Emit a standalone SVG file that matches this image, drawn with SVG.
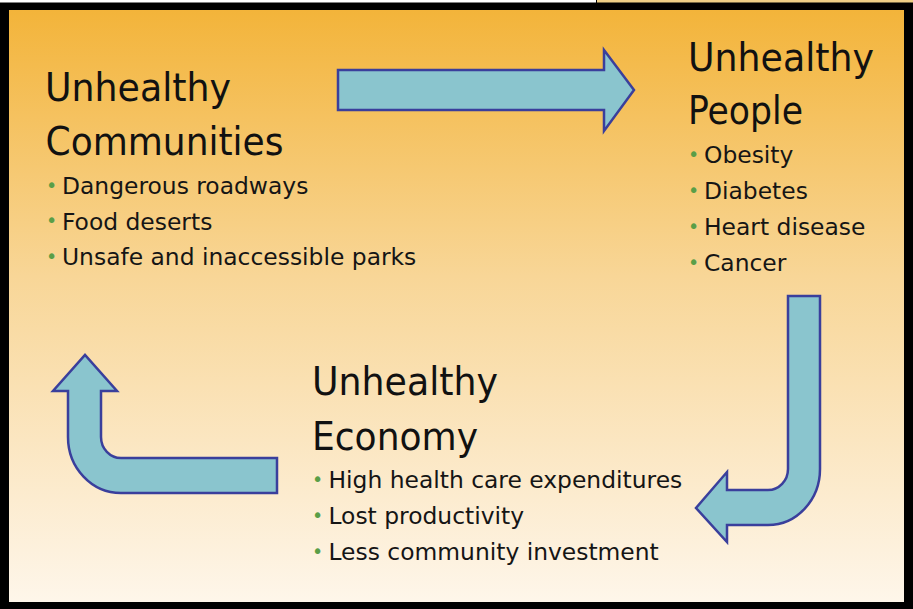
<svg xmlns="http://www.w3.org/2000/svg" width="913" height="609" viewBox="0 0 913 609">
<defs>
<linearGradient id="bg" x1="0" y1="0" x2="0" y2="1">
<stop offset="0" stop-color="#F3B43A"/>
<stop offset="0.45" stop-color="#F8D697"/>
<stop offset="1" stop-color="#FEF6EA"/>
</linearGradient>
<style>
.title{font-family:"DejaVu Sans Condensed","DejaVu Sans",sans-serif;font-stretch:condensed;font-size:39px;fill:#111;}
.item{font-family:"DejaVu Sans","Verdana",sans-serif;font-size:23.4px;fill:#151515;}
.dot{font-family:"DejaVu Sans",sans-serif;font-size:19px;fill:#5A9E47;}
.arrow{fill:#8AC5CE;stroke:#3A3F9C;stroke-width:2.5;stroke-linejoin:miter;}
</style>
</defs>
<rect x="0" y="0" width="913" height="609" fill="#000"/>
<rect x="0" y="0" width="596" height="2.5" fill="#fff"/>
<rect x="597" y="0" width="316" height="2.5" fill="#F0CF86"/>
<rect x="9" y="10" width="895" height="592" fill="url(#bg)"/>

<g id="connectors">
<path class="arrow" d="M338,70 H604 V50 L634,90 L604,131 V110 H338 Z"/>
<path class="arrow" d="M788,296 H820 V469 A52,56 0 0 1 768,525 H727 V542 L696,508 L727,472 V490 H768 A20,21 0 0 0 788,469 Z"/>
<path class="arrow" d="M277,458 V493 H121 A53,56 0 0 1 68,437 V391 H53 L85,355 L117,391 H101 V437 A20,21 0 0 0 121,458 Z"/>
</g>

<g id="node-communities">
<text class="title" x="45" y="101" textLength="186" lengthAdjust="spacingAndGlyphs">Unhealthy</text>
<text class="title" x="45.5" y="155" textLength="238" lengthAdjust="spacingAndGlyphs">Communities</text>
<text class="dot" x="46" y="191.5">•</text>
<text class="item" x="62" y="194">Dangerous roadways</text>
<text class="dot" x="46" y="227">•</text>
<text class="item" x="62" y="229.5">Food deserts</text>
<text class="dot" x="46" y="262.5">•</text>
<text class="item" x="62" y="265">Unsafe and inaccessible parks</text>
</g>

<g id="node-people">
<text class="title" x="688" y="71" textLength="186" lengthAdjust="spacingAndGlyphs">Unhealthy</text>
<text class="title" x="688" y="124" textLength="115" lengthAdjust="spacingAndGlyphs">People</text>
<text class="dot" x="688" y="160.5">•</text>
<text class="item" x="704" y="163">Obesity</text>
<text class="dot" x="688" y="196.5">•</text>
<text class="item" x="704" y="199">Diabetes</text>
<text class="dot" x="688" y="232.5">•</text>
<text class="item" x="704" y="235">Heart disease</text>
<text class="dot" x="688" y="268.5">•</text>
<text class="item" x="704" y="271">Cancer</text>
</g>

<g id="node-economy">
<text class="title" x="312" y="395" textLength="186" lengthAdjust="spacingAndGlyphs">Unhealthy</text>
<text class="title" x="312" y="450" textLength="166" lengthAdjust="spacingAndGlyphs">Economy</text>
<text class="dot" x="312" y="485.5">•</text>
<text class="item" x="328.5" y="488">High health care expenditures</text>
<text class="dot" x="312" y="521.5">•</text>
<text class="item" x="328.5" y="524">Lost productivity</text>
<text class="dot" x="312" y="557.5">•</text>
<text class="item" x="328.5" y="560">Less community investment</text>
</g>
</svg>
